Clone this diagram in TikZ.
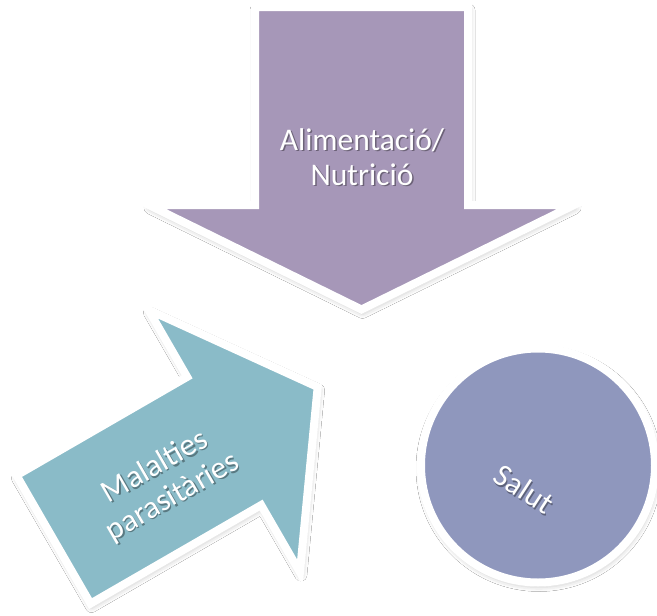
\documentclass[tikz,border=0pt]{standalone}
\usepackage{fontspec}
\setmainfont{Carlito}
\usetikzlibrary{shadows.blur}
\definecolor{nutricol}{RGB}{166,151,184}
\definecolor{malalcol}{RGB}{138,187,200}
\definecolor{salutcol}{RGB}{143,151,189}
\tikzset{
  outlined/.style={draw=white, line width=8pt, line join=miter, miter limit=10},
  softshadow/.style={blur shadow={shadow xshift=1pt, shadow yshift=-3pt,
      shadow blur radius=6pt, shadow opacity=30}},
  labeltext/.style={text=white, font=\fontsize{31.5}{35}\selectfont, align=center, inner sep=0pt},
  labelshadow/.style={labeltext, text=black, text opacity=0.35}
}
\begin{document}
\begin{tikzpicture}[x=1pt, y=-1pt]
  \useasboundingbox (0,0) rectangle (657,616);
  \fill[white] (0,0) rectangle (657,616);

  % Downward arrow: Alimentació / Nutrició
  \path[softshadow, outlined, fill=nutricol]
    (255,7) -- (468,7) -- (468,205) -- (574.2,205) -- (361.5,309.5)
    -- (148.8,205) -- (255,205) -- cycle;
  \node[labelshadow] (nutriS) at (363.5,158.5) {Alimentació/\\Nutrició};
  \node[labeltext] (nutri) at (362,157) {Alimentació/\\Nutrició};

  % Tilted arrow: Malalties parasitàries
  \begin{scope}[shift={(57,537.5)}, rotate=30]
    \path[softshadow, outlined, fill=malalcol]
      (-4,-74) -- (193,-74) -- (193,-151.6) -- (301,0) -- (193,151.6)
      -- (193,74) -- (-4,74) -- cycle;
  \end{scope}
  \node[labelshadow, rotate=30] (malalS) at (165.5,483.5) {Malalties\\parasitàries};
  \node[labeltext, rotate=30] (malal) at (164,482) {Malalties\\parasitàries};

  % Circle: Salut
  \path[softshadow, outlined, fill=salutcol] (538,465.5) circle[radius=117];
  \node[labelshadow, rotate=-33] (salutS) at (525.5,490.5) {Salut};
  \node[labeltext, rotate=-33] (salut) at (524,489) {Salut};
\end{tikzpicture}
\end{document}
